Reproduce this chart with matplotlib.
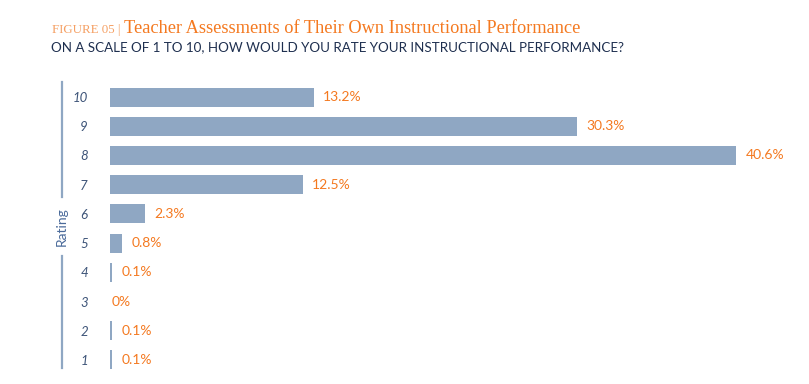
import matplotlib
matplotlib.use("Agg")
import matplotlib.pyplot as plt
from matplotlib.lines import Line2D

ratings = [10, 9, 8, 7, 6, 5, 4, 3, 2, 1]
percents = [13.2, 30.3, 40.6, 12.5, 2.3, 0.8, 0.1, 0.0, 0.1, 0.1]
value_labels = ["13.2%", "30.3%", "40.6%", "12.5%", "2.3%", "0.8%", "0.1%", "0%", "0.1%", "0.1%"]

BAR = "#8fa7c3"
ORANGE = "#f47920"
LIGHT_ORANGE = "#f5a064"
NAVY = "#1e2f4f"
TICK = "#3d5478"
RATING = "#4a6a9a"

W, H = 809, 384
fig = plt.figure(figsize=(W / 100, H / 100), dpi=100)
fig.patch.set_facecolor("white")

ax = fig.add_axes([110 / W, 1 - 374.6 / H, 680 / W, (374.6 - 82.4) / H])
ax.barh(ratings, percents, height=0.65, color=BAR, edgecolor="none")
ax.set_xlim(0, 680 / 15.42)
ax.set_ylim(0.5, 10.5)
for s in ax.spines.values():
    s.set_visible(False)
ax.set_xticks([])
ax.set_yticks(ratings)
ax.set_yticklabels([str(r) for r in ratings], fontsize=9.5, color=TICK,
                   fontstyle="italic", family="Lato")
ax.tick_params(axis="y", length=0, pad=16)

for r, p, lab in zip(ratings, percents, value_labels):
    x = p + 0.6 if p > 0 else 0.1
    if 0 < p < 0.5:
        x = p + 0.65
    ax.text(x, r, lab, va="center", ha="left", color=ORANGE, fontsize=10, family="Lato")

# left axis line with "Rating" gap
fig.add_artist(Line2D([62 / W, 62 / W], [1 - 82 / H, 1 - 197 / H], color=BAR, lw=1.6))
fig.add_artist(Line2D([62 / W, 62 / W], [1 - 256 / H, 1 - 368 / H], color=BAR, lw=1.6))
fig.text(62 / W, 1 - 227 / H, "Rating", rotation=90, ha="center", va="center",
         color=RATING, fontsize=10, family="Lato")

# title
t1 = fig.text(52 / W, 1 - 33 / H, "FIGURE 05 | ", color=LIGHT_ORANGE, fontsize=9.3,
              family="Liberation Serif", va="baseline", ha="left")
fig.canvas.draw()
bb = t1.get_window_extent()
fig.text(bb.x1 / W, 1 - 33 / H, "Teacher Assessments of Their Own Instructional Performance",
         color=ORANGE, fontsize=13.2, family="Liberation Serif", va="baseline", ha="left")
fig.text(51 / W, 1 - 51 / H, "ON A SCALE OF 1 TO 10, HOW WOULD YOU RATE YOUR INSTRUCTIONAL PERFORMANCE?",
         color=NAVY, fontsize=9.6, family="Lato", va="baseline", ha="left")

fig.savefig("out.png", dpi=100, facecolor="white")
